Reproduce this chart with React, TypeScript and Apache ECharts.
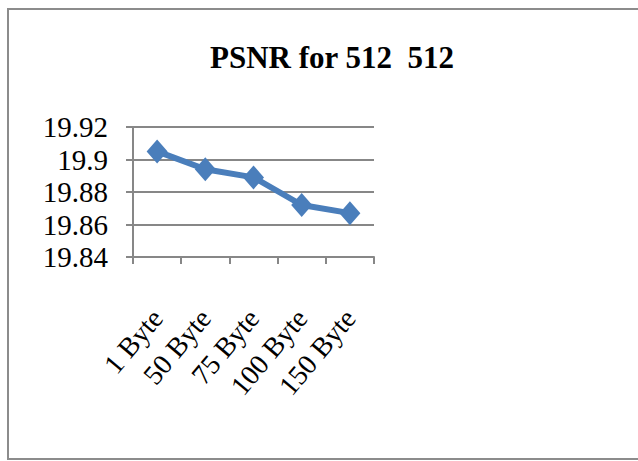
import React, { useEffect, useRef } from "react";
import * as echarts from "echarts";

const categories = ["1 Byte", "50 Byte", "75 Byte", "100 Byte", "150 Byte"];
const psnrValues = [19.905, 19.894, 19.889, 19.872, 19.867];
const yMin = 19.84;
const yMax = 19.92;
const yInterval = 0.02;
const titleText = "PSNR for 512  512";

export default function App() {
  const ref = useRef<HTMLDivElement>(null);
  useEffect(() => {
    document.body.style.margin = "0";
    const chart = echarts.init(ref.current!, null, { renderer: "svg" });
    const grey = "#878787";
    const serif = "'Liberation Serif', 'Times New Roman', serif";
    chart.setOption({
      animation: false,
      backgroundColor: "#ffffff",
      title: {
        text: titleText,
        left: 327,
        top: 37,
        textAlign: "center",
        textStyle: {
          fontFamily: serif,
          fontWeight: "bold",
          fontSize: 31,
          color: "#000",
        },
      },
      graphic: [
        {
          type: "rect",
          shape: { x: 8, y: 9, width: 640, height: 450 },
          style: { fill: "none", stroke: "#8c8c8c", lineWidth: 2 },
          silent: true,
        },
      ],
      grid: { left: 133, right: 264, top: 127, bottom: 204, containLabel: false },
      xAxis: {
        type: "category",
        data: categories,
        boundaryGap: true,
        axisLine: { show: true, lineStyle: { color: grey, width: 2 } },
        axisTick: { show: true, interval: 0, length: 7, lineStyle: { color: grey, width: 2 } },
        axisLabel: {
          interval: 0,
          rotate: 50,
          margin: 56,
          fontFamily: serif,
          fontSize: 28,
          color: "#000",
        },
        splitLine: { show: false },
      },
      yAxis: {
        type: "value",
        min: yMin,
        max: yMax,
        interval: yInterval,
        axisLine: { show: true, lineStyle: { color: grey, width: 2 } },
        axisTick: { show: true, length: 7, lineStyle: { color: grey, width: 2 } },
        axisLabel: {
          margin: 25,
          fontFamily: serif,
          fontSize: 29,
          color: "#000",
          formatter: (v: number) => String(parseFloat(v.toFixed(2))),
        },
        splitLine: { show: true, lineStyle: { color: grey, width: 2 } },
      },
      series: [
        {
          type: "line",
          data: psnrValues,
          lineStyle: { color: "#4a7ebb", width: 6 },
          itemStyle: { color: "#4a7ebb" },
          symbol: "diamond",
          symbolSize: [21, 24],
        },
      ],
    });
    return () => chart.dispose();
  }, []);
  return <div ref={ref} style={{ width: 638, height: 461 }} />;
}
